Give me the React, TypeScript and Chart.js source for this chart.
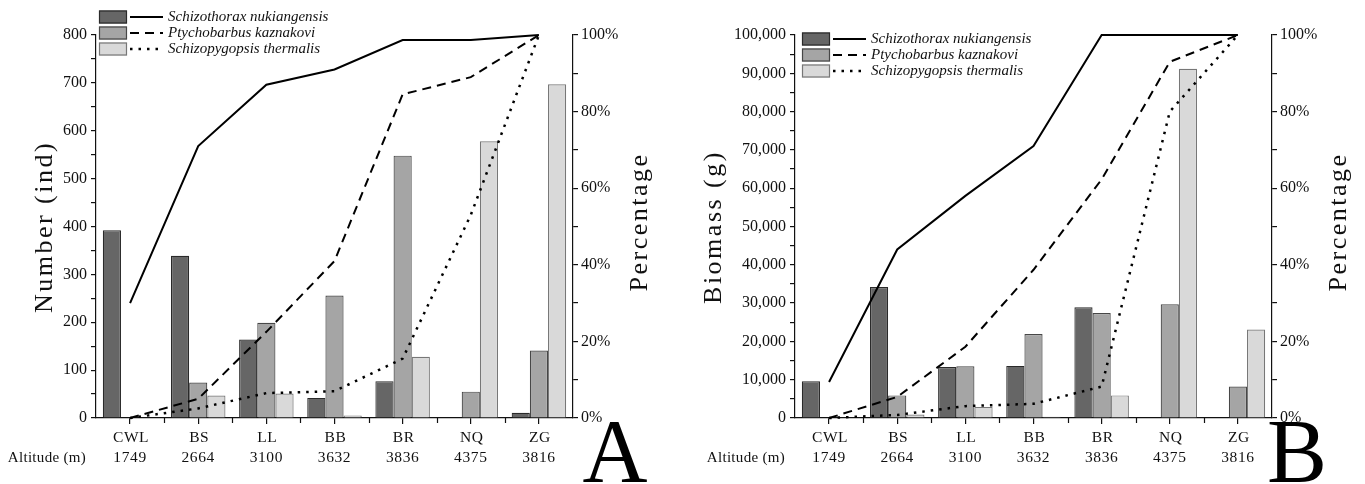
import React, { useEffect, useRef } from 'react';
import { Chart, registerables } from 'chart.js';

Chart.register(...registerables);

const SERIF = "'Liberation Serif', 'Times New Roman', serif";

const categories = ['CWL', 'BS', 'LL', 'BB', 'BR', 'NQ', 'ZG'];
const altitudes = ['1749', '2664', '3100', '3632', '3836', '4375', '3816'];
const species = ['Schizothorax nukiangensis', 'Ptychobarbus kaznakovi', 'Schizopygopsis thermalis'];

// Panel A: number of individuals
const numberSN = [392, 339, 164, 42, 77, 0, 11];
const numberPK = [0, 74, 199, 256, 548, 55, 141];
const numberST = [0, 47, 51, 5, 128, 578, 697];
// Panel A: cumulative percentage
const numPctSN = [30, 71, 87, 91, 98.7, 98.7, 100];
const numPctPK = [0, 5, 22.5, 41, 84.5, 89, 100];
const numPctST = [0, 2.5, 6.5, 7, 15.5, 53, 100];

// Panel B: biomass (g)
const biomassSN = [9600, 34200, 13300, 13600, 28900, 0, 150];
const biomassPK = [0, 5900, 13500, 21900, 27400, 29700, 8200];
const biomassST = [0, 900, 2900, 300, 5900, 91200, 23100];
// Panel B: cumulative percentage
const bioPctSN = [9.4, 44, 58, 71, 100, 100, 100];
const bioPctPK = [0, 5.5, 18.6, 38.7, 62.3, 93, 100];
const bioPctST = [0, 0.8, 3.1, 3.7, 8.2, 80, 100];

const barFills = ['#666666', '#a5a5a5', '#d9d9d9'];
const barBorders = ['#2a2a2a', '#474747', '#777777'];
const lineDashes: number[][] = [[], [9, 6], [2.5, 6]];
const INK = '#111';

type Panel = {
  left: number;
  width: number;
  axisLeft: number;
  axisRight: number;
  bars: number[][];
  pcts: number[][];
  yMax: number;
  yStep: number;
  yTitle: string;
  yTitleX: number;
  letter: string;
  legendX: number;
  legendY: number;
  fmt: (v: number) => string;
};

const fmtComma = (v: number) => String(v).replace(/\B(?=(\d{3})+(?!\d))/g, ',');

function PanelChart({ p }: { p: Panel }) {
  const ref = useRef<HTMLCanvasElement | null>(null);
  useEffect(() => {
    const canvas = ref.current;
    if (!canvas) return;
    const decor = {
      id: 'decor',
      afterDraw(chart: any) {
        const ctx = chart.ctx as CanvasRenderingContext2D;
        const ca = chart.chartArea;
        const xs = chart.scales.x;
        ctx.save();
        ctx.strokeStyle = INK;
        ctx.lineWidth = 1.2;
        const n = categories.length;
        const w = (ca.right - ca.left) / n;
        for (let i = 1; i < n; i++) {
          const px = Math.round(ca.left + i * w) + 0.5;
          ctx.beginPath();
          ctx.moveTo(px, ca.bottom);
          ctx.lineTo(px, ca.bottom + 5);
          ctx.stroke();
        }
        ctx.fillStyle = INK;
        ctx.font = `15.5px ${SERIF}`;
        (ctx as any).letterSpacing = '0.6px';
        ctx.textAlign = 'center';
        ctx.textBaseline = 'middle';
        categories.forEach((c, i) => {
          const px = xs.getPixelForValue(i);
          ctx.fillText(c, px + 1, 438);
          ctx.fillText(altitudes[i], px, 458);
        });
        ctx.font = `15px ${SERIF}`;
        (ctx as any).letterSpacing = '0.3px';
        ctx.textAlign = 'right';
        ctx.fillText('Altitude (m)', ca.left - 10, 458);

        ctx.font = `26px ${SERIF}`;
        (ctx as any).letterSpacing = '2.5px';
        ctx.textAlign = 'center';
        ctx.save();
        ctx.translate(p.yTitleX, 227);
        ctx.rotate(-Math.PI / 2);
        ctx.fillText(p.yTitle, 0, 0);
        ctx.restore();
        ctx.save();
        ctx.translate(ca.right + 67, 222);
        ctx.rotate(-Math.PI / 2);
        ctx.fillText('Percentage', 0, 0);
        ctx.restore();

        (ctx as any).letterSpacing = '0px';
        ctx.font = `90px ${SERIF}`;
        ctx.textBaseline = 'alphabetic';
        ctx.fillStyle = '#000';
        ctx.fillText(p.letter, 615, 482);

        ctx.font = `italic 15px ${SERIF}`;
        ctx.textAlign = 'left';
        ctx.textBaseline = 'middle';
        for (let i = 0; i < 3; i++) {
          const y = p.legendY + i * 16;
          ctx.fillStyle = barFills[i];
          ctx.fillRect(p.legendX, y - 6.5, 28, 13);
          ctx.strokeStyle = barBorders[i];
          ctx.lineWidth = 1.2;
          ctx.setLineDash([]);
          ctx.strokeRect(p.legendX + 0.5, y - 6, 27, 12);
          ctx.strokeStyle = '#000';
          ctx.lineWidth = i === 2 ? 2.5 : 2;
          ctx.setLineDash(lineDashes[i]);
          ctx.beginPath();
          ctx.moveTo(p.legendX + 31, y);
          ctx.lineTo(p.legendX + 64, y);
          ctx.stroke();
          ctx.setLineDash([]);
          ctx.fillStyle = INK;
          ctx.fillText(species[i], p.legendX + 69, y);
        }
        ctx.restore();
      },
    };

    const datasets: any[] = [];
    p.bars.forEach((d, i) => {
      datasets.push({
        type: 'bar',
        label: species[i],
        data: d,
        backgroundColor: barFills[i],
        borderColor: barBorders[i],
        borderWidth: 1.2,
        yAxisID: 'y',
        order: 2,
        categoryPercentage: 0.8,
        barPercentage: 1.0,
      });
    });
    p.pcts.forEach((d, i) => {
      datasets.push({
        type: 'line',
        label: species[i] + ' %',
        data: d,
        borderColor: '#000',
        borderWidth: i === 2 ? 2.5 : 2,
        borderDash: lineDashes[i],
        pointRadius: 0,
        tension: 0,
        fill: false,
        yAxisID: 'yp',
        order: 1,
        clip: 6,
      });
    });

    const tickFont = { family: SERIF, size: 16 };
    const chart = new Chart(canvas, {
      type: 'bar',
      data: { labels: categories, datasets },
      options: {
        animation: false,
        responsive: false,
        devicePixelRatio: 1,
        layout: { padding: { top: 35, bottom: 0, left: 0, right: 0 } },
        plugins: { legend: { display: false }, tooltip: { enabled: false } },
        scales: {
          x: {
            offset: true,
            grid: { offset: false, drawOnChartArea: false, tickLength: 6, color: INK, lineWidth: 1.2 },
            border: { display: true, color: INK, width: 1.2 },
            ticks: { callback: () => '' },
            afterFit: (s: any) => {
              s.height = 66;
            },
          },
          y: {
            position: 'left',
            min: 0,
            max: p.yMax,
            grid: { drawOnChartArea: false, tickLength: 5, color: INK, lineWidth: 1.2 },
            border: { display: true, color: INK, width: 1.2 },
            ticks: {
              stepSize: p.yStep / 2,
              autoSkip: false,
              padding: 4,
              color: INK,
              font: tickFont,
              callback: (v: any) => (Number(v) % p.yStep === 0 ? p.fmt(Number(v)) : ''),
            },
            afterFit: (s: any) => {
              s.width = p.axisLeft;
            },
          },
          yp: {
            position: 'right',
            min: 0,
            max: 100,
            grid: { drawOnChartArea: false, tickLength: 5, color: INK, lineWidth: 1.2 },
            border: { display: true, color: INK, width: 1.2 },
            ticks: {
              stepSize: 10,
              autoSkip: false,
              padding: 3,
              color: INK,
              font: tickFont,
              callback: (v: any) => (Number(v) % 20 === 0 ? v + '%' : ''),
            },
            afterFit: (s: any) => {
              s.width = p.axisRight;
            },
          },
        },
      },
      plugins: [decor],
    });
    return () => chart.destroy();
  }, [p]);

  return (
    <canvas
      ref={ref}
      width={p.width}
      height={484}
      style={{ position: 'absolute', left: p.left, top: 0, width: p.width, height: 484 }}
    />
  );
}

const panelA: Panel = {
  left: 0,
  width: 682,
  axisLeft: 96,
  axisRight: 682 - 573,
  bars: [numberSN, numberPK, numberST],
  pcts: [numPctSN, numPctPK, numPctST],
  yMax: 800,
  yStep: 100,
  yTitle: 'Number (ind)',
  yTitleX: 45,
  letter: 'A',
  legendX: 99,
  legendY: 17,
  fmt: (v) => String(v),
};

const panelB: Panel = {
  left: 682,
  width: 683,
  axisLeft: 795 - 682,
  axisRight: 1365 - 1272,
  bars: [biomassSN, biomassPK, biomassST],
  pcts: [bioPctSN, bioPctPK, bioPctST],
  yMax: 100000,
  yStep: 10000,
  yTitle: 'Biomass (g)',
  yTitleX: 32,
  letter: 'B',
  legendX: 802 - 682,
  legendY: 39,
  fmt: fmtComma,
};

export default function App() {
  return (
    <div style={{ position: 'absolute', left: 0, top: 0, width: 1365, height: 484, background: '#fff', overflow: 'hidden' }}>
      <PanelChart p={panelA} />
      <PanelChart p={panelB} />
    </div>
  );
}
